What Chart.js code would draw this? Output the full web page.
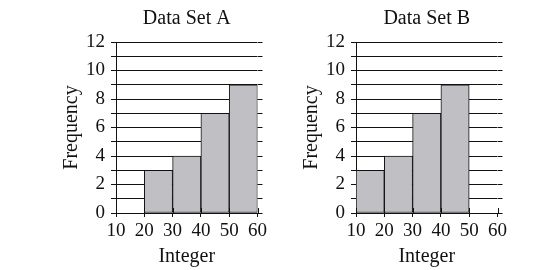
<!DOCTYPE html>
<html>
<head>
<meta charset="utf-8">
<script src="https://cdn.jsdelivr.net/npm/chart.js@4/dist/chart.umd.min.js"></script>
<style>
  html, body { margin: 0; padding: 0; background: #fff; }
  body { width: 540px; height: 270px; position: relative; overflow: hidden; }
  .box { position: absolute; top: 0; width: 220px; height: 270px; }
  #boxA { left: 50px; }
  #boxB { left: 290px; }
</style>
</head>
<body>
<div class="box" id="boxA"><canvas id="chartA"></canvas></div>
<div class="box" id="boxB"><canvas id="chartB"></canvas></div>
<script>
// bins are 10 wide, bars sit on their midpoints
const binMidsA = [25, 35, 45, 55];
const freqA = [3, 4, 7, 9];
const binMidsB = [15, 25, 35, 45];
const freqB = [3, 4, 7, 9];
const xTicks = [10, 20, 30, 40, 50, 60];
const yMax = 12;

const ink = "#111";
const serif = "'Liberation Serif', 'DejaVu Serif', serif";

// little tick marks pointing up from the x axis
const upTicks = {
  id: "upTicks",
  afterDatasetsDraw(chart) {
    const x = chart.scales.x;
    const ctx = chart.ctx;
    const y0 = chart.chartArea.bottom;
    ctx.save();
    ctx.strokeStyle = ink;
    ctx.lineWidth = 1;
    xTicks.forEach((v) => {
      const px = Math.round(x.getPixelForValue(v)) + 0.5;
      ctx.beginPath();
      ctx.moveTo(px, y0);
      ctx.lineTo(px, y0 - 5);
      ctx.stroke();
    });
    ctx.restore();
  }
};

function makeChart(id, title, mids, freq) {
  return new Chart(document.getElementById(id), {
    type: "bar",
    data: {
      datasets: [{
        data: mids.map((m, i) => ({ x: m, y: freq[i] })),
        backgroundColor: "#c0c0c4",
        borderColor: ink,
        borderWidth: 1,
        borderSkipped: false,
        barPercentage: 1,
        categoryPercentage: 1
      }]
    },
    options: {
      responsive: true,
      maintainAspectRatio: false,
      animation: false,
      layout: { padding: { left: 0, right: 6, top: 0, bottom: 0 } },
      plugins: {
        legend: { display: false },
        tooltip: { enabled: false },
        title: {
          display: true,
          text: title,
          fullSize: false,
          color: ink,
          font: { family: serif, size: 20, weight: "normal" },
          padding: { top: 7, bottom: 11 }
        }
      },
      scales: {
        x: {
          type: "linear",
          min: xTicks[0],
          max: xTicks[xTicks.length - 1],
          offset: false,
          afterBuildTicks: (s) => { s.ticks = xTicks.map((v) => ({ value: v })); },
          afterFit: (s) => { s.height = 57; },
          grid: { offset: false, drawOnChartArea: false, color: ink, tickLength: 4 },
          border: { color: ink, width: 1 },
          ticks: { color: ink, padding: 3, maxRotation: 0, font: { family: serif, size: 19 } },
          title: {
            display: true,
            text: "Integer",
            color: ink,
            font: { family: serif, size: 20 },
            padding: { top: 0, bottom: 1 }
          }
        },
        y: {
          min: 0,
          max: yMax,
          afterFit: (s) => { s.width = 66; },
          grid: { color: ink, tickLength: 5 },
          border: { color: ink, width: 1 },
          ticks: {
            stepSize: 1,
            autoSkip: false,
            color: ink,
            padding: 6,
            font: { family: serif, size: 19 },
            callback: (v) => (v % 2 === 0 ? v : "")
          },
          title: {
            display: true,
            text: "Frequency",
            color: ink,
            font: { family: serif, size: 20 },
            padding: { top: 10, bottom: 0 }
          }
        },
        // right-hand stubs so the grid runs a little past 60
        y2: {
          position: "right",
          min: 0,
          max: yMax,
          afterFit: (s) => { s.width = 5; },
          grid: { drawOnChartArea: false, color: ink, tickLength: 5 },
          border: { display: false },
          ticks: { stepSize: 1, autoSkip: false, display: false }
        }
      }
    },
    plugins: [upTicks]
  });
}

makeChart("chartA", "Data Set A", binMidsA, freqA);
makeChart("chartB", "Data Set B", binMidsB, freqB);
</script>
</body>
</html>
